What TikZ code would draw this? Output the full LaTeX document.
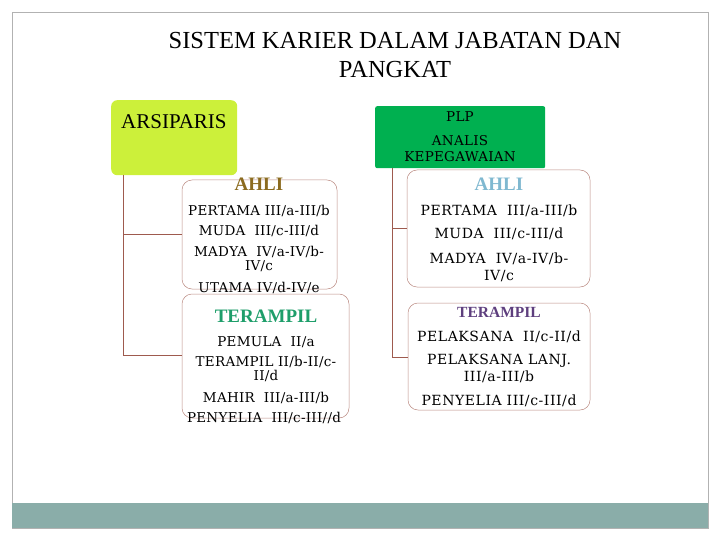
\documentclass[tikz,border=0pt]{standalone}
\usepackage{fontspec}
\setmainfont{Liberation Serif}
\newfontfamily\bodyf[LetterSpace=2]{DejaVu Serif}
\newfontfamily\bodyw[LetterSpace=4]{DejaVu Serif}
\definecolor{lime}{HTML}{CCF03A}
\definecolor{plpgreen}{HTML}{00B050}
\definecolor{frame}{HTML}{8AADA9}
\definecolor{conn}{HTML}{9E5A4E}
\definecolor{ahlil}{HTML}{8B6B1F}
\definecolor{teraml}{HTML}{1E9E6A}
\definecolor{ahlir}{HTML}{7FB8D0}
\definecolor{teramr}{HTML}{5E3F7E}
\tikzset{
 txt/.style={font=\bodyf\fontsize{13.5}{14}\selectfont, align=center, inner sep=0},
 txtr/.style={font=\bodyw\fontsize{14}{17}\selectfont, align=center, inner sep=0},
 head/.style={font=\fontsize{19}{20}\selectfont\bfseries, inner sep=0},
 ibox/.style={draw=conn!70, rounded corners=10pt, line width=0.5pt},
 line/.style={draw=conn, line width=0.6pt}
}
\begin{document}
\begin{tikzpicture}[x=1pt,y=-1pt]
\useasboundingbox (0,0) rectangle (720,540);
\draw[gray!60] (12,12) rectangle (708,528);
\fill[frame] (12,503) rectangle (708,528);
\node[font=\fontsize{24.5}{29}\selectfont, align=center] (title) at (395,55) {SISTEM KARIER DALAM JABATAN DAN\\PANGKAT};
% boxes
\node[fill=lime, rounded corners=6pt, minimum width=126, minimum height=75, anchor=north west, inner sep=0] (ars) at (111,100) {};
\node[font=\fontsize{21}{22}\selectfont, anchor=west, inner sep=0] (arst) at (121,122) {ARSIPARIS};
\node[fill=plpgreen, rounded corners=2pt, minimum width=170, minimum height=62, anchor=north west, inner sep=0] (plp) at (375,106) {};
\node[font=\bodyf\fontsize{13.5}{16}\selectfont, align=center, inner sep=0] (plpt) at (460,117) {PLP};
\node[font=\bodyf\fontsize{13.5}{16}\selectfont, align=center, inner sep=0] (plpt2) at (460,149) {ANALIS\\KEPEGAWAIAN};
\draw[ibox] (182,180) rectangle (337,289);
\draw[ibox] (182,294) rectangle (349,418);
\draw[ibox] (407,170) rectangle (590,287);
\draw[ibox] (408,303) rectangle (590,410);
% connectors
\coordinate (l1) at (123,234); \coordinate (l2) at (123,355);
\coordinate (r1) at (392,228); \coordinate (r2) at (392,357);
\draw[line] (123,175) -- (l2) -- (182,355);
\draw[line] (l1) -- (182,234);
\draw[line] (392,168) -- (r2) -- (408,357);
\draw[line] (r1) -- (407,228);
% left ahli
\node[head, text=ahlil] (t1) at (259,184) {AHLI};
\node[txt] (t2) at (259,211) {PERTAMA III/a-III/b};
\node[txt] (t3) at (259,231) {MUDA\ \ III/c-III/d};
\node[txt] (t4) at (259,259) {MADYA\ \ IV/a-IV/b-\\IV/c};
\node[txt] (t5) at (259,288) {UTAMA IV/d-IV/e};
% left terampil
\node[head, text=teraml] (t6) at (266,316) {TERAMPIL};
\node[txt] (t7) at (266,342) {PEMULA\ \ II/a};
\node[txt] (t8) at (266,369) {TERAMPIL II/b-II/c-\\II/d};
\node[txt] (t9) at (266,398) {MAHIR\ \ III/a-III/b};
\node[txt] (t10) at (264,418) {PENYELIA\ \ III/c-III//d};
% right ahli
\node[head, text=ahlir] (t11) at (499,184) {AHLI};
\node[txtr] (t12) at (499,211) {PERTAMA\ \ III/a-III/b};
\node[txtr] (t13) at (499,234) {MUDA\ \ III/c-III/d};
\node[txtr] (t14) at (499,267) {MADYA\ \ IV/a-IV/b-\\IV/c};
% right terampil
\node[head, text=teramr, font=\fontsize{15.5}{16}\selectfont\bfseries] (t15) at (499,312) {TERAMPIL};
\node[txtr] (t16) at (499,337) {PELAKSANA\ \ II/c-II/d};
\node[txtr] (t17) at (499,368) {PELAKSANA LANJ.\\III/a-III/b};
\node[txtr] (t18) at (499,401) {PENYELIA III/c-III/d};
\end{tikzpicture}
\end{document}
